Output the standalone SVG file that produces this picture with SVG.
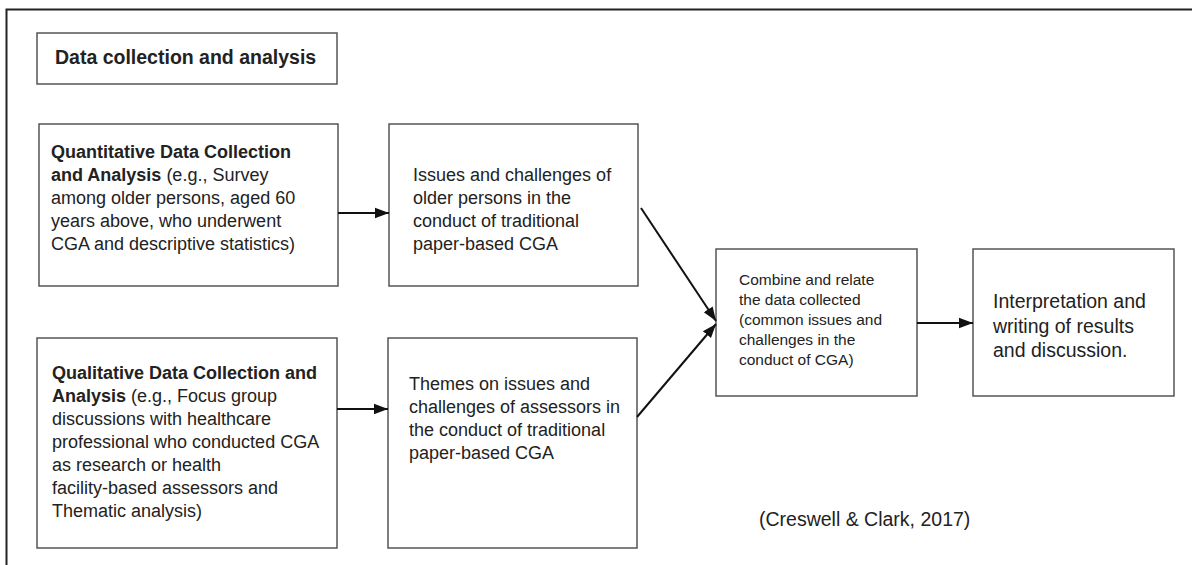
<svg xmlns="http://www.w3.org/2000/svg" width="1192" height="565" viewBox="0 0 1192 565">
<style>
.box{fill:#fff;stroke:#555;stroke-width:1.5}
.t{font-family:"Liberation Sans",Arial,sans-serif;fill:#222}
.b{font-weight:bold}
.con{stroke:#111;stroke-width:2;fill:none;marker-end:url(#ah)}
</style>
<defs>
<marker id="ah" viewBox="0 0 10 10" refX="10" refY="5" markerWidth="7" markerHeight="7" orient="auto" markerUnits="strokeWidth">
<path d="M0,1.2 L10,5 L0,8.8 z" fill="#111"/>
</marker>
</defs>
<rect width="1192" height="565" fill="#fff"/>
<path d="M6.5,565 V9.5 H1192" fill="none" stroke="#222" stroke-width="2"/>
<g id="title">
<rect class="box" x="37" y="33" width="300" height="51"/>
<text class="t b" x="55" y="64" font-size="19.5">Data collection and analysis</text>
</g>
<g id="quant">
<rect class="box" x="39" y="124" width="299" height="162"/>
<text class="t" font-size="18" x="51" y="158"><tspan class="b">Quantitative Data Collection</tspan><tspan x="51" dy="23"><tspan class="b">and Analysis</tspan> (e.g., Survey</tspan><tspan x="51" dy="23">among older persons, aged 60</tspan><tspan x="51" dy="23">years above, who underwent</tspan><tspan x="51" dy="23">CGA and descriptive statistics)</tspan></text>
</g>
<g id="issues">
<rect class="box" x="389" y="124" width="249" height="162"/>
<text class="t" font-size="18" x="413" y="181">Issues and challenges of<tspan x="413" dy="23">older persons in the</tspan><tspan x="413" dy="23">conduct of traditional</tspan><tspan x="413" dy="23">paper-based CGA</tspan></text>
</g>
<g id="qual">
<rect class="box" x="37" y="338" width="300" height="210"/>
<text class="t" font-size="18" x="52" y="379"><tspan class="b">Qualitative Data Collection and</tspan><tspan x="52" dy="23"><tspan class="b">Analysis</tspan> (e.g., Focus group</tspan><tspan x="52" dy="23">discussions with healthcare</tspan><tspan x="52" dy="23">professional who conducted CGA</tspan><tspan x="52" dy="23">as research or health</tspan><tspan x="52" dy="23">facility-based assessors and</tspan><tspan x="52" dy="23">Thematic analysis)</tspan></text>
</g>
<g id="themes">
<rect class="box" x="388" y="338" width="249" height="210"/>
<text class="t" font-size="18" x="409" y="390">Themes on issues and<tspan x="409" dy="23">challenges of assessors in</tspan><tspan x="409" dy="23">the conduct of traditional</tspan><tspan x="409" dy="23">paper-based CGA</tspan></text>
</g>
<g id="combine">
<rect class="box" x="716" y="249" width="201" height="147"/>
<text class="t" font-size="15.5" x="739" y="285">Combine and relate<tspan x="739" dy="20">the data collected</tspan><tspan x="739" dy="20">(common issues and</tspan><tspan x="739" dy="20">challenges in the</tspan><tspan x="739" dy="20">conduct of CGA)</tspan></text>
</g>
<g id="interp">
<rect class="box" x="973" y="249" width="201" height="147"/>
<text class="t" font-size="19.5" x="993" y="308">Interpretation and<tspan x="993" dy="24.5">writing of results</tspan><tspan x="993" dy="24.5">and discussion.</tspan></text>
</g>
<g id="citation">
<text class="t" font-size="19.5" x="759" y="526">(Creswell &amp; Clark, 2017)</text>
</g>
<g id="connectors">
<line class="con" x1="338" y1="213" x2="389" y2="213"/>
<line class="con" x1="337" y1="409" x2="388" y2="409"/>
<line class="con" x1="641" y1="208" x2="716" y2="321"/>
<line class="con" x1="637" y1="417" x2="716" y2="324"/>
<line class="con" x1="917" y1="323" x2="973" y2="323"/>
</g>
</svg>
